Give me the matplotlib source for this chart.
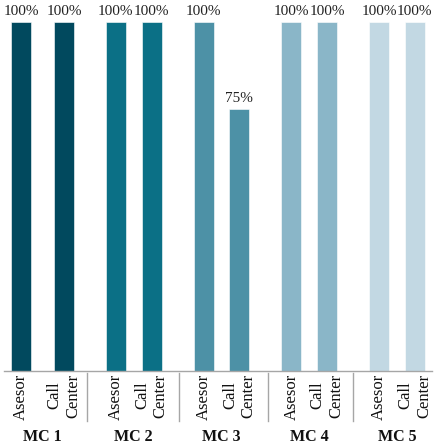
import numpy as np
import matplotlib.pyplot as plt

plt.rcParams['font.family'] = ['Liberation Serif', 'DejaVu Serif']

# Data
groups = ['MC 1', 'MC 2', 'MC 3', 'MC 4', 'MC 5']
series = ['Asesor', 'Call\nCenter']
asesor = [100, 100, 100, 100, 100]
call_center = [100, 100, 75, 100, 100]
colors = ['#01495e', '#0b7086', '#4d91a6', '#8ab6c8', '#c2d8e3']

# Layout (x in pixel-like units across the axes)
group_centers = [42.5, 133.7, 221.4, 309.2, 397.0]
half_gap = [21.5, 17.8, 17.8, 17.8, 17.8]
separators = [87.3, 179.3, 267.7, 353.3]
bar_w = 20

fig = plt.figure(figsize=(4.4, 4.47), dpi=100)
ax = fig.add_axes([4 / 440, 76.3 / 447, 428 / 440, 348.7 / 447])

pos, labels = [], []
for i, g in enumerate(groups):
    x1 = group_centers[i] - half_gap[i]
    x2 = group_centers[i] + half_gap[i]
    for x, v in ((x1, asesor[i]), (x2, call_center[i])):
        ax.bar(x, v, width=bar_w, color=colors[i], edgecolor='white', linewidth=0.4)
        ax.text(x, v + 1.2, f'{v}%', ha='center', va='bottom', fontsize=11,
                color='#222222', clip_on=False)
    pos += [x1, x2]
    labels += series
    ax.text(group_centers[i], -0.19, g, transform=ax.get_xaxis_transform(),
            ha='center', va='center', fontsize=11.5, fontweight='bold', color='#111111')

ax.set_xlim(4, 432)
ax.set_ylim(0, 100)
ax.set_xticks(pos, labels, rotation=90, fontsize=12, color='#111111')
ax.tick_params(axis='x', length=0, pad=2)
ax.set_yticks([])
for s in ['top', 'left', 'right']:
    ax.spines[s].set_visible(False)
ax.spines['bottom'].set_color('#a6a6a6')
ax.spines['bottom'].set_linewidth(1)

for sx in separators:
    ax.plot([sx, sx], [-0.006, -0.145], transform=ax.get_xaxis_transform(),
            color='#a6a6a6', linewidth=1, clip_on=False)

fig.savefig('out.png', dpi=100)
